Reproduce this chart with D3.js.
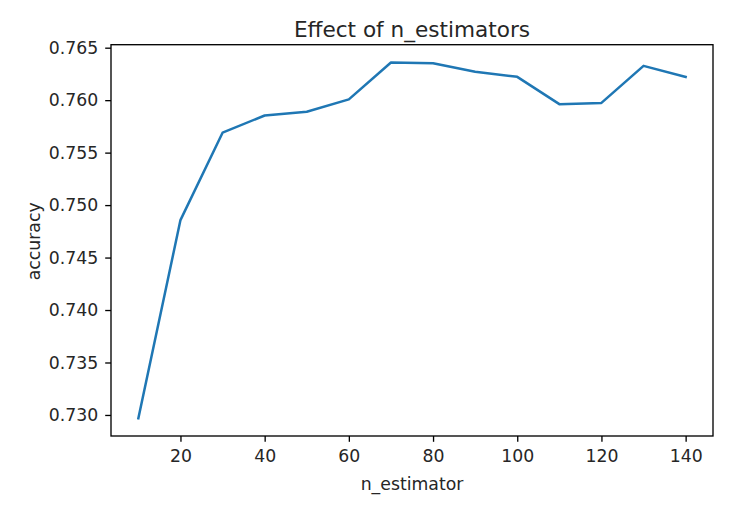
<!DOCTYPE html>
<html><head><meta charset="utf-8">
<script src="https://cdn.jsdelivr.net/npm/d3@7/dist/d3.min.js"></script>
<style>
html,body{margin:0;padding:0;background:#fff;}
text{font-family:"DejaVu Sans",sans-serif;}
</style></head>
<body><svg id="c" width="736" height="510"></svg>
<script>
const nEstimators = [10,20,30,40,50,60,70,80,90,100,110,120,130,140];
const accuracy = [0.72969,0.74857,0.75690,0.75854,0.75889,0.76007,0.76359,0.76352,0.76270,0.76222,0.75962,0.75974,0.76327,0.76222];
const xTicks = [20,40,60,80,100,120,140];
const yTicks = [0.730,0.735,0.740,0.745,0.750,0.755,0.760,0.765];
const title = "Effect of n_estimators";
const xLabel = "n_estimator";
const yLabel = "accuracy";

const svg = d3.select("#c");
const L=111, R=713, T=44.7, B=436;
const xmin=d3.min(nEstimators), xmax=d3.max(nEstimators);
const ymin=d3.min(accuracy), ymax=d3.max(accuracy);
const xm=(xmax-xmin)*0.05, ym=(ymax-ymin)*0.05;
const x=d3.scaleLinear().domain([xmin-xm,xmax+xm]).range([L,R]);
const y=d3.scaleLinear().domain([ymin-ym,ymax+ym]).range([B,T]);

const fs=17.3;
const xa=svg.append("g").attr("transform",`translate(0,${B})`)
  .call(d3.axisBottom(x).tickValues(xTicks).tickSize(5.8).tickPadding(8).tickFormat(d3.format("d")));
const ya=svg.append("g").attr("transform",`translate(${L},0)`)
  .call(d3.axisLeft(y).tickValues(yTicks).tickSize(5.8).tickPadding(7).tickFormat(d3.format(".3f")));
[xa,ya].forEach(a=>{
  a.select(".domain").remove();
  a.selectAll(".tick line").attr("stroke","#000").attr("stroke-width",1.33);
  a.selectAll(".tick text").attr("fill","#262626").style("font-size",fs+"px").style("font-family","DejaVu Sans");
});

svg.append("path").datum(nEstimators.map((d,i)=>[d,accuracy[i]]))
  .attr("fill","none").attr("stroke","#1f77b4").attr("stroke-width",2.5)
  .attr("stroke-linejoin","round").attr("stroke-linecap","square")
  .attr("d",d3.line().x(d=>x(d[0])).y(d=>y(d[1])));

svg.append("rect").attr("x",L).attr("y",T).attr("width",R-L).attr("height",B-T)
  .attr("fill","none").attr("stroke","#000").attr("stroke-width",1.33);

svg.append("text").attr("x",(L+R)/2).attr("y",37.3).attr("text-anchor","middle")
  .attr("fill","#262626").style("font-size","21.6px").text(title);
svg.append("text").attr("x",(L+R)/2).attr("y",490).attr("text-anchor","middle")
  .attr("fill","#262626").style("font-size",fs+"px").text(xLabel);
svg.append("text").attr("transform",`translate(40,${(T+B)/2+1}) rotate(-90)`).attr("text-anchor","middle")
  .attr("fill","#262626").style("font-size",fs+"px").text(yLabel);
</script></body></html>
